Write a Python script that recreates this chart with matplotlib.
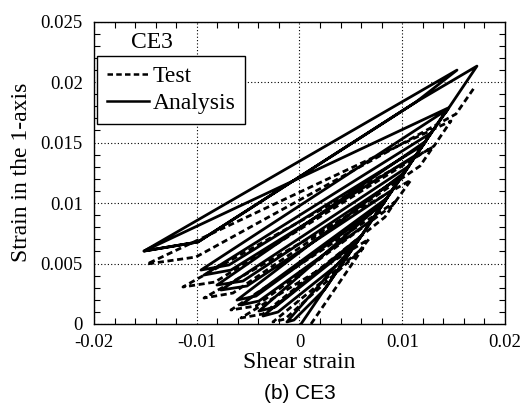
import matplotlib
matplotlib.use("Agg")
import matplotlib.pyplot as plt
from matplotlib.ticker import MultipleLocator
from matplotlib.lines import Line2D

# ==========================================
# DADOS
# ==========================================

# Analysis: vértices do caminho (deformação cisalhante, deformação eixo 1)
analise_x = [0.00015, 0.00550,
             -0.00122, -0.00054, 0.00248, 0.00599,
             -0.00355, -0.00209, 0.00462, 0.00822,
             -0.00394, -0.00238, 0.00569, 0.00852,
             -0.00569, -0.00394, 0.00706, 0.01027,
             -0.00608, -0.00423, 0.00803, 0.01066,
             -0.00764, -0.00511, 0.00900, 0.01231,
             -0.00803, -0.00550, 0.00998, 0.01280,
             -0.00929, -0.00667, 0.01134, 0.01445,
             -0.00959, -0.00686, 0.01202, 0.01445,
             -0.01513, -0.00988, 0.01134, 0.01533,
             -0.01513, -0.00988, 0.01134, 0.01727, 0.01426]
analise_y = [0.00000, 0.00669,
             0.00017, 0.00033, 0.00289, 0.00727,
             0.00066, 0.00099, 0.00554, 0.01008,
             0.00107, 0.00140, 0.00686, 0.01041,
             0.00157, 0.00190, 0.00860, 0.01256,
             0.00198, 0.00231, 0.00983, 0.01306,
             0.00281, 0.00314, 0.01107, 0.01512,
             0.00322, 0.00355, 0.01223, 0.01579,
             0.00405, 0.00446, 0.01397, 0.01777,
             0.00446, 0.00488, 0.01479, 0.01785,
             0.00603, 0.00678, 0.01835, 0.02099,
             0.00603, 0.00678, 0.01835, 0.02132, 0.01752]

# Test: vértices do caminho
teste_x = [0.00112, 0.00618,
           -0.00258, -0.00141, 0.00560, 0.00676,
           -0.00569, -0.00355, 0.00832, 0.00929,
           -0.00667, -0.00423, 0.00910, 0.01085,
           -0.00929, -0.00647, 0.01173, 0.01299,
           -0.01134, -0.00822, 0.01309, 0.01474,
           -0.01484, -0.01007, 0.01523, 0.01698]
teste_y = [0.00000, 0.00628,
           0.00017, 0.00041, 0.00579, 0.00702,
           0.00050, 0.00083, 0.00884, 0.01008,
           0.00116, 0.00149, 0.00983, 0.01190,
           0.00215, 0.00256, 0.01306, 0.01463,
           0.00306, 0.00347, 0.01471, 0.01678,
           0.00496, 0.00554, 0.01736, 0.01950]

plt.rcParams['font.family'] = ['Liberation Serif', 'DejaVu Serif']

fig = plt.figure(figsize=(5.31, 4.12), dpi=100)
ax = fig.add_axes([0.177, 0.2136, 0.774, 0.734])

tracejado = (0, (2.2, 1.3))
ax.plot(teste_x, teste_y, color='black', linewidth=2.0, linestyle=tracejado)
ax.plot(analise_x, analise_y, color='black', linewidth=2.0)

ax.set_xlim(-0.02, 0.02)
ax.set_ylim(0, 0.025)
ax.xaxis.set_minor_locator(MultipleLocator(0.002))
ax.yaxis.set_minor_locator(MultipleLocator(0.001))
ax.set_xticks([-0.02, -0.01, 0, 0.01, 0.02])
ax.set_xticklabels(['-0.02', '-0.01', '0', '0.01', '0.02'])
ax.set_yticks([0, 0.005, 0.01, 0.015, 0.02, 0.025])
ax.set_yticklabels(['0', '0.005', '0.01', '0.015', '0.02', '0.025'])
ax.tick_params(which='both', direction='in', top=True, right=True, labelsize=13.5)
ax.tick_params(axis='x', which='major', length=0, pad=7)
ax.tick_params(axis='y', which='major', length=0, pad=8)
ax.tick_params(which='minor', length=4, width=0.8)
ax.grid(True, which='major', color='black', linestyle=(0, (1, 2)), linewidth=0.8)
for s in ax.spines.values():
    s.set_linewidth(1.0)

ax.set_xlabel('Shear strain', fontsize=17, labelpad=1)
ax.set_ylabel('Strain in the 1-axis', fontsize=17, labelpad=6)

# Legenda
ax.text(0.141, 0.932, 'CE3', transform=ax.transAxes, fontsize=17,
        ha='center', va='center')
alcas = [Line2D([], [], color='black', linewidth=1.8, linestyle=tracejado),
         Line2D([], [], color='black', linewidth=1.8)]
leg = ax.legend(alcas, ['Test', 'Analysis'], loc='upper left',
                bbox_to_anchor=(0.008, 0.886), fontsize=17, frameon=True,
                fancybox=False, edgecolor='black', framealpha=1,
                handlelength=1.8, handletextpad=0.15, borderpad=0.4,
                labelspacing=0.25, borderaxespad=0)
leg.get_frame().set_linewidth(1.0)

fig.text(0.565, 0.044, '(b) CE3', fontsize=15, family='Liberation Sans',
         ha='center', va='center')

fig.savefig('out.png', dpi=100)
